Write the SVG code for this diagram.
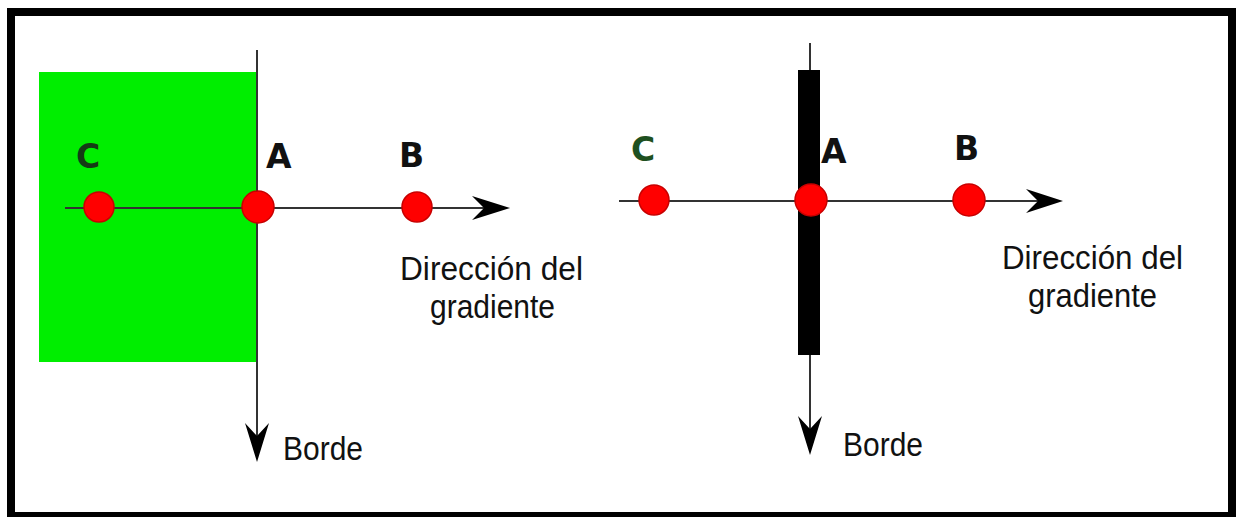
<svg xmlns="http://www.w3.org/2000/svg" width="1236" height="517" viewBox="0 0 1236 517">
<defs>
<style>
.pt{fill:#ff0000;stroke:#c80000;stroke-width:1.5}
.lbl{font-family:"DejaVu Sans",sans-serif;font-weight:bold;font-size:33px;fill:#111}
.txt{font-family:"Liberation Sans",Arial,sans-serif;font-size:34px;fill:#111}
.ax{stroke:#333;stroke-width:2;fill:none}
.head{fill:#000}
</style>
</defs>
<rect x="7" y="8" width="1229" height="509" fill="#000"/>
<rect x="15" y="16" width="1213" height="496" fill="#fff"/>

<g id="left-panel">
  <rect id="green-region" x="39" y="72" width="218" height="290" fill="#00ee00"/>
</g>

<g id="connectors">
  <line class="ax" x1="257" y1="50" x2="257" y2="440"/>
  <polygon class="head" points="257,462 245,423 257,436 269,423"/>
  <line class="ax" x1="65" y1="208" x2="490" y2="208"/>
  <polygon class="head" points="510,208 472,196 484,208 472,220"/>
  <line class="ax" x1="810" y1="43" x2="810" y2="430"/>
  <polygon class="head" points="810,455 798,416 810,429 822,416"/>
  <line class="ax" x1="619" y1="201" x2="1045" y2="201"/>
  <polygon class="head" points="1063,201 1026,189 1038,201 1026,213"/>
</g>

<g id="right-panel">
  <rect id="black-edge" x="798" y="70" width="22" height="285" fill="#000"/>
</g>

<g id="left-C"><circle class="pt" cx="99" cy="207" r="15"/><text class="lbl" x="76" y="168" style="fill:#153a15">C</text></g>
<g id="left-A"><circle class="pt" cx="258" cy="207" r="16"/><text class="lbl" x="266" y="168">A</text></g>
<g id="left-B"><circle class="pt" cx="417" cy="207" r="15"/><text class="lbl" x="399" y="167">B</text></g>
<g id="left-grad"><text class="txt"><tspan x="400" y="280" textLength="183" lengthAdjust="spacingAndGlyphs">Dirección del</tspan><tspan x="430" y="318" textLength="125" lengthAdjust="spacingAndGlyphs">gradiente</tspan></text></g>
<g id="left-borde"><text class="txt" x="283" y="460" textLength="80" lengthAdjust="spacingAndGlyphs">Borde</text></g>

<g id="right-C"><circle class="pt" cx="654" cy="200" r="15"/><text class="lbl" x="631" y="161" style="fill:#1e5020">C</text></g>
<g id="right-A"><circle class="pt" cx="811" cy="200" r="16"/><text class="lbl" x="821" y="163">A</text></g>
<g id="right-B"><circle class="pt" cx="969" cy="200" r="16"/><text class="lbl" x="954" y="160">B</text></g>
<g id="right-grad"><text class="txt"><tspan x="1002" y="269" textLength="181" lengthAdjust="spacingAndGlyphs">Dirección del</tspan><tspan x="1028" y="307" textLength="129" lengthAdjust="spacingAndGlyphs">gradiente</tspan></text></g>
<g id="right-borde"><text class="txt" x="843" y="456" textLength="80" lengthAdjust="spacingAndGlyphs">Borde</text></g>
</svg>
